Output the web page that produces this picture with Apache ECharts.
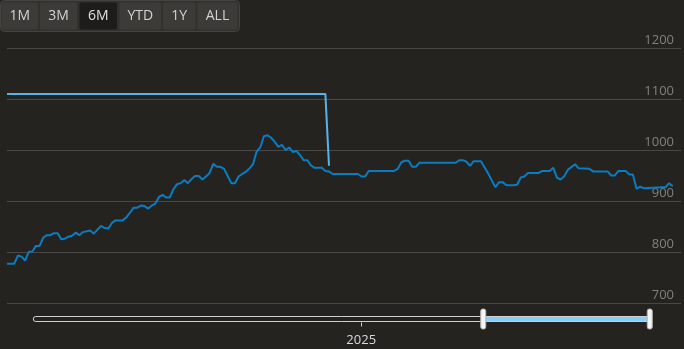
<!DOCTYPE html>
<html><head><meta charset="utf-8">
<script src="https://cdn.jsdelivr.net/npm/echarts@6/dist/echarts.min.js"></script>
<style>html,body{margin:0;padding:0;background:#252320;}#c{width:684px;height:349px;}</style>
</head><body><div id="c"></div>
<script>
// ---- data ----
const priceDates = [
'2025-05-14','2025-05-16','2025-05-17','2025-05-18','2025-05-19','2025-05-20','2025-05-21','2025-05-22','2025-05-23','2025-05-24',
'2025-05-25','2025-05-26','2025-05-27','2025-05-28','2025-05-29','2025-05-30','2025-05-31','2025-06-01','2025-06-02','2025-06-03',
'2025-06-04','2025-06-06','2025-06-07','2025-06-08','2025-06-09','2025-06-10','2025-06-11','2025-06-12','2025-06-13','2025-06-15',
'2025-06-16','2025-06-17','2025-06-18','2025-06-19','2025-06-20','2025-06-21','2025-06-22','2025-06-23','2025-06-24','2025-06-25',
'2025-06-26','2025-06-27','2025-06-28','2025-06-29','2025-06-30','2025-07-01','2025-07-02','2025-07-03','2025-07-04','2025-07-05',
'2025-07-06','2025-07-07','2025-07-08','2025-07-09','2025-07-10','2025-07-11','2025-07-12','2025-07-13','2025-07-14','2025-07-15',
'2025-07-16','2025-07-17','2025-07-18','2025-07-19','2025-07-20','2025-07-21','2025-07-22','2025-07-23','2025-07-24','2025-07-25',
'2025-07-26','2025-07-27','2025-07-28','2025-07-29','2025-07-30','2025-07-31','2025-08-01','2025-08-02','2025-08-03','2025-08-04',
'2025-08-05','2025-08-06','2025-08-07','2025-08-09','2025-08-10','2025-08-11','2025-08-12','2025-08-19','2025-08-20','2025-08-21',
'2025-08-22','2025-08-29','2025-08-30','2025-08-31','2025-09-01','2025-09-02','2025-09-03','2025-09-04','2025-09-05','2025-09-15',
'2025-09-16','2025-09-17','2025-09-18','2025-09-19','2025-09-20','2025-09-22','2025-09-24','2025-09-25','2025-09-26','2025-09-27',
'2025-09-28','2025-09-29','2025-10-01','2025-10-02','2025-10-03','2025-10-04','2025-10-05','2025-10-08','2025-10-09','2025-10-11',
'2025-10-12','2025-10-13','2025-10-14','2025-10-15','2025-10-16','2025-10-18','2025-10-19','2025-10-22','2025-10-23','2025-10-27',
'2025-10-28','2025-10-29','2025-10-30','2025-11-01','2025-11-02','2025-11-03','2025-11-04','2025-11-05','2025-11-06','2025-11-11',
'2025-11-12','2025-11-13','2025-11-14'
];
const priceValues = [
777,777,793,791,783,800,801,812,812,828,
833,833,837,837,825,826,830,832,838,833,
839,842,836,844,851,847,846,857,862,862,
868,877,887,887,891,890,885,891,895,908,
912,907,907,923,933,935,941,935,943,949,
949,942,948,955,973,967,967,963,949,935,
935,948,953,957,964,972,997,1005,1027,1029,
1024,1016,1006,1010,1000,1005,996,998,990,980,
980,970,965,965,959,958,953,953,948,948,
959,959,963,976,979,979,967,967,975,975,
980,980,977,969,978,978,954,940,927,937,
937,931,931,932,946,948,955,955,959,959,
965,946,942,948,961,972,964,963,958,958,
950,950,959,959,952,952,924,928,925,927,
927,935,929
];
const refDates = ['2025-05-14','2025-08-10','2025-08-11'];
const refValues = [1110,1110,969];
const yMin = 700, yMax = 1200, yStep = 100;
const rangeButtons = ['1M','3M','6M','YTD','1Y','ALL'];
const selectedButton = '6M';
const fullStart = '2024-01-03';
const fullEnd = '2025-11-16 07:00:00';
const windowStart = '2025-05-14';
const navYearTick = '2025-01-01';

// ---- build ----
const P = s => echarts.time.parse(s).getTime();
const mainData = priceDates.map((d, i) => [P(d), priceValues[i]]);
const refData = refDates.map((d, i) => [P(d), refValues[i]]);
const tYear = P(navYearTick);

const btnX = [1.5, 40, 79.5, 119.5, 163, 197.5];
const btnW = [36.5, 37, 37.5, 41.5, 32.5, 40];
const graphic = [{
  type: 'rect', shape: {x: 0.5, y: 0.5, width: 239, height: 31, r: 4},
  style: {fill: '#33312e', stroke: '#45433f', lineWidth: 1}, z: 10
}];
rangeButtons.forEach((b, i) => {
  const sel = b === selectedButton;
  graphic.push({
    type: 'rect', shape: {x: btnX[i], y: 2.5, width: btnW[i], height: 27, r: 2},
    style: {fill: sel ? '#1d1c1a' : '#3d3b38'}, z: 11
  });
  graphic.push({
    type: 'text', x: btnX[i] + btnW[i] / 2, y: 16.5, z: 12,
    style: {text: b, fill: sel ? '#e0e0e0' : '#d2d2d2', font: '14px "Open Sans"', align: 'center', verticalAlign: 'middle'}
  });
});

const chart = echarts.init(document.getElementById('c'), null, {renderer: 'canvas'});
chart.setOption({
  backgroundColor: '#252320',
  animation: false,
  textStyle: {fontFamily: 'Open Sans'},
  graphic: graphic,
  grid: [
    {left: 7, right: 3, top: 48, height: 255},
    {left: 32, right: 34, top: 321.5, height: 1}
  ],
  xAxis: [
    {type: 'time', gridIndex: 0, min: P(fullStart), max: P(fullEnd), show: false},
    {type: 'value', gridIndex: 1, min: P(fullStart), max: P(fullEnd),
     axisLine: {show: false}, splitLine: {show: false},
     axisTick: {show: true, customValues: [tYear], length: 4, lineStyle: {color: '#cfcfcf', width: 1}},
     axisLabel: {customValues: [tYear], margin: 11, color: '#d8dadf', fontSize: 13, fontFamily: 'Open Sans',
       formatter: v => String(new Date(v).getFullYear())}}
  ],
  yAxis: [
    {type: 'value', gridIndex: 0, position: 'right', min: yMin, max: yMax, interval: yStep,
     axisLine: {show: false}, axisTick: {show: false},
     splitLine: {show: true, lineStyle: {color: '#4a4845', width: 1}},
     axisLabel: {inside: true, margin: 7, color: '#82807d', fontSize: 13, fontFamily: 'Open Sans',
       verticalAlign: 'bottom', lineHeight: 15, showMinLabel: true, showMaxLabel: true,
       formatter: v => String(v)}},
    {type: 'value', gridIndex: 1, show: false}
  ],
  dataZoom: [{
    type: 'slider', xAxisIndex: 0, filterMode: 'none',
    startValue: P(windowStart), endValue: P(fullEnd),
    left: 32, right: 34, top: 316, height: 6,
    showDataShadow: false, showDetail: false, brushSelect: false, moveHandleSize: 0,
    backgroundColor: 'rgba(0,0,0,0)', borderColor: '#cfcfcf', borderRadius: 3,
    fillerColor: '#87cdf7',
    dataBackground: {lineStyle: {opacity: 0}, areaStyle: {opacity: 0}},
    handleIcon: 'path://M2,0h1a2,2 0 0 1 2,2v16a2,2 0 0 1 -2,2h-1a2,2 0 0 1 -2,-2v-16a2,2 0 0 1 2,-2z',
    handleSize: '333%',
    handleStyle: {color: '#f4f4f4', borderColor: '#b5b5b5', borderWidth: 1},
    emphasis: {handleStyle: {color: '#f4f4f4', borderColor: '#b5b5b5', borderWidth: 1}}
  }],
  series: [
    {type: 'line', name: 'ref', xAxisIndex: 0, yAxisIndex: 0, data: refData, showSymbol: false, symbol: 'none',
     lineStyle: {color: '#56b4ea', width: 2}, itemStyle: {color: '#56b4ea'}, z: 2},
    {type: 'line', name: 'price', xAxisIndex: 0, yAxisIndex: 0, data: mainData, showSymbol: false, symbol: 'none',
     lineStyle: {color: '#0a7cc1', width: 2}, itemStyle: {color: '#0a7cc1'}, z: 3}
  ]
});
</script>
</body></html>
